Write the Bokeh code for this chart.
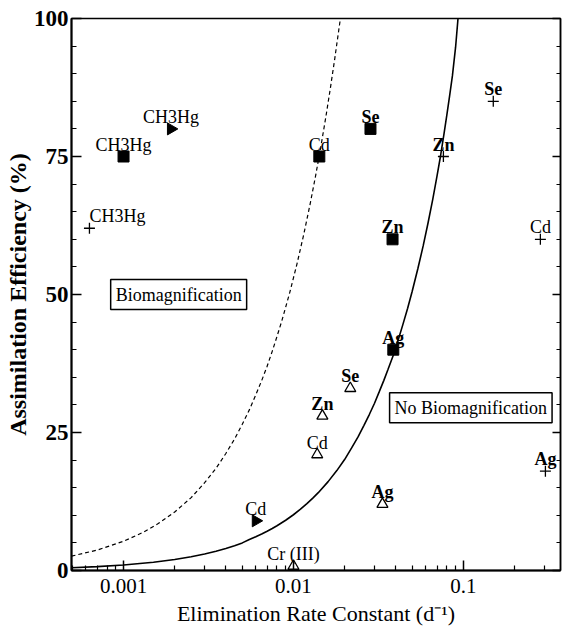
from bokeh.plotting import figure
from bokeh.models import (LinearAxis, FixedTicker, Label, ColumnDataSource,
                          CustomJSTickFormatter)
from bokeh.core.properties import value
from bokeh.embed import file_html
from bokeh.resources import INLINE

# ---------------- data ----------------
# filled squares
sq_x = [0.001, 0.0142, 0.0284, 0.0383, 0.0387]
sq_y = [75, 75, 80, 60, 40]
sq_lab = ["CH3Hg", "Cd", "Se", "Zn", "Ag"]
# filled right-pointing triangles
rt_x = [0.0019, 0.006]
rt_y = [80, 9]
rt_lab = ["CH3Hg", "Cd"]
# open triangles
ot_x = [0.0100, 0.0138, 0.0148, 0.0216, 0.0334]
ot_y = [0.8, 21, 28, 33, 12]
ot_lab = ["Cr (III)", "Cd", "Zn", "Se", "Ag"]
# plus signs
pl_x = [0.00063, 0.0763, 0.150, 0.284, 0.304]
pl_y = [62, 75, 85, 60, 18]
pl_lab = ["CH3Hg", "Zn", "Se", "Cd", "Ag"]

# solid curve
solid_k = [0.000494, 0.0007, 0.001, 0.0015, 0.002, 0.0025, 0.003, 0.0035, 0.004,
           0.0045, 0.005, 0.0055, 0.006, 0.0065, 0.007, 0.0075, 0.008, 0.009,
           0.01, 0.011, 0.012, 0.013, 0.014, 0.016, 0.018, 0.02, 0.022, 0.024,
           0.026, 0.028, 0.03, 0.032, 0.034, 0.036, 0.0387, 0.041, 0.044, 0.047,
           0.05, 0.054, 0.058, 0.062, 0.066, 0.07, 0.0733, 0.077, 0.08, 0.083,
           0.0862, 0.09, 0.093]
solid_ae = [0.5, 0.7, 1.0, 1.5, 2.0, 2.5, 3.0, 3.5, 4.0,
            4.5, 5.0, 5.6, 6.1, 6.6, 7.1, 7.6, 8.1, 9.1,
            10.1, 11.1, 12.1, 13.1, 14.1, 16.1, 18.1, 20.1, 22.2, 24.2,
            26.3, 28.3, 30.3, 32.4, 34.4, 36.4, 39.0, 41.4, 44.5, 47.5,
            50.6, 54.7, 58.8, 63.0, 67.2, 71.5, 75.0, 79.2, 82.6, 86.0,
            89.6, 94.8, 100]
# dashed curve
dash_k = [0.000494, 0.0007, 0.001, 0.0013, 0.0016, 0.002, 0.0025, 0.003, 0.0035,
          0.004, 0.0045, 0.005, 0.0055, 0.006, 0.0065, 0.007, 0.0075, 0.008,
          0.0085, 0.009, 0.0095, 0.01, 0.0105, 0.011, 0.0115, 0.012, 0.0125,
          0.013, 0.0135, 0.014, 0.0145, 0.015, 0.0155, 0.016, 0.0165, 0.017,
          0.0175, 0.018, 0.0185, 0.0189]
dash_ae = [2.6, 3.7, 5.3, 6.9, 8.5, 10.6, 13.2, 15.9, 18.5,
           21.2, 23.8, 26.5, 29.1, 31.8, 34.4, 37.0, 39.7, 42.4,
           45.0, 47.7, 50.3, 53.0, 55.6, 58.3, 60.9, 63.6, 66.2,
           68.9, 71.5, 74.2, 76.8, 79.5, 82.1, 84.8, 87.4, 90.1,
           92.7, 95.4, 98.0, 100]

x_ticks = [0.001, 0.01, 0.1]
y_ticks = [0, 25, 50, 75, 100]

FONT = "Liberation Serif, Times New Roman, serif"
bold_set = {"Se", "Zn", "Ag"}

p = figure(x_axis_type="log", x_range=(0.000494, 0.373), y_range=(0, 100),
           width=562, height=633, output_backend="svg", toolbar_location=None,
           min_border_left=71, min_border_right=2, min_border_top=18,
           min_border_bottom=63)
p.xgrid.visible = False
p.ygrid.visible = False
p.outline_line_color = "black"
p.outline_line_width = 1.5
p.background_fill_color = "white"
p.border_fill_color = "white"

# curves
p.line(solid_k, solid_ae, line_color="black", line_width=1.6)
p.line(dash_k, dash_ae, line_color="black", line_width=1.2, line_dash="4 3")

# markers
p.scatter(sq_x, sq_y, marker="square", size=11, fill_color="black", line_color="black")
p.scatter(rt_x, rt_y, marker="triangle", size=12, angle=-1.5708,
          fill_color="black", line_color="black")
p.scatter(ot_x, ot_y, marker="triangle", size=11, fill_color="white",
          line_color="black", line_width=1.3)
p.scatter(pl_x, pl_y, marker="cross", size=11, line_color="black", line_width=1.3)

def add_labels(xs, ys, labs, align="center"):
    src = ColumnDataSource(dict(x=xs, y=ys, t=labs,
                                st=["bold" if l in bold_set else "normal" for l in labs]))
    p.text(x="x", y="y", text="t", source=src, text_align=align,
           text_baseline="alphabetic", y_offset=-12,
           text_font=value(FONT), text_font_size="18px",
           text_font_style="st", text_color="black")

add_labels(sq_x, sq_y, sq_lab)
add_labels(rt_x, rt_y, rt_lab)
add_labels(ot_x, ot_y, ot_lab)
add_labels(pl_x[:1], pl_y[:1], pl_lab[:1], align="left")
add_labels(pl_x[1:], pl_y[1:], pl_lab[1:])

# boxed region labels
for txt, lx, ly in [("Biomagnification", 0.00084, 50), ("No Biomagnification", 0.0368, 29.5)]:
    p.add_layout(Label(x=lx, y=ly, text=txt, text_align="left", text_baseline="middle",
                       text_font=FONT, text_font_size="18px", text_color="black",
                       border_line_color="black", border_line_width=1.5,
                       background_fill_color="white", padding=5))

# x axis
xa = p.xaxis[0]
xa.ticker = FixedTicker(ticks=x_ticks,
                        minor_ticks=[m * 10.0 ** e for e in (-4, -3, -2, -1) for m in range(2, 10)])
xa.formatter = CustomJSTickFormatter(code="return String(Number(tick.toPrecision(2)));")
xa.axis_label = "Elimination Rate Constant (d\u207b\u00b9)"
xa.axis_label_text_font = FONT
xa.axis_label_text_font_style = "normal"
xa.axis_label_text_font_size = "22px"
xa.axis_label_text_color = "black"
xa.axis_label_standoff = 5
xa.major_label_text_font = FONT
xa.major_label_text_font_size = "21px"
xa.major_label_text_color = "black"
xa.major_label_standoff = 8
xa.major_tick_in = 10
xa.major_tick_out = 0
xa.minor_tick_in = 5
xa.minor_tick_out = 0
xa.axis_line_width = 2
xa.axis_line_color = "black"
xa.major_tick_line_width = 1.5
xa.minor_tick_line_width = 1.2

# y axis
ya = p.yaxis[0]
ya.ticker = FixedTicker(ticks=y_ticks, minor_ticks=list(range(0, 101, 5)))
ya.axis_label = "Assimilation Efficiency (%)"
ya.axis_label_text_font = FONT
ya.axis_label_text_font_style = "bold"
ya.axis_label_text_font_size = "24px"
ya.axis_label_text_color = "black"
ya.axis_label_standoff = 0
ya.major_label_text_font = FONT
ya.major_label_text_font_style = "bold"
ya.major_label_text_font_size = "23px"
ya.major_label_text_color = "black"
ya.major_label_standoff = 3
ya.major_tick_in = 10
ya.major_tick_out = 0
ya.minor_tick_in = 5
ya.minor_tick_out = 0
ya.axis_line_width = 2
ya.axis_line_color = "black"
ya.major_tick_line_width = 1.5
ya.minor_tick_line_width = 1.2

# right axis with inward ticks, no labels
ra = LinearAxis(ticker=FixedTicker(ticks=y_ticks, minor_ticks=list(range(0, 101, 5))),
                formatter=CustomJSTickFormatter(code="return '';"),
                major_label_standoff=0,
                major_tick_in=8, major_tick_out=0, minor_tick_in=4, minor_tick_out=0,
                axis_line_width=1.5, major_tick_line_width=1.5, minor_tick_line_width=1.2)
p.add_layout(ra, "right")

open("out.html", "w").write(file_html(p, INLINE))
